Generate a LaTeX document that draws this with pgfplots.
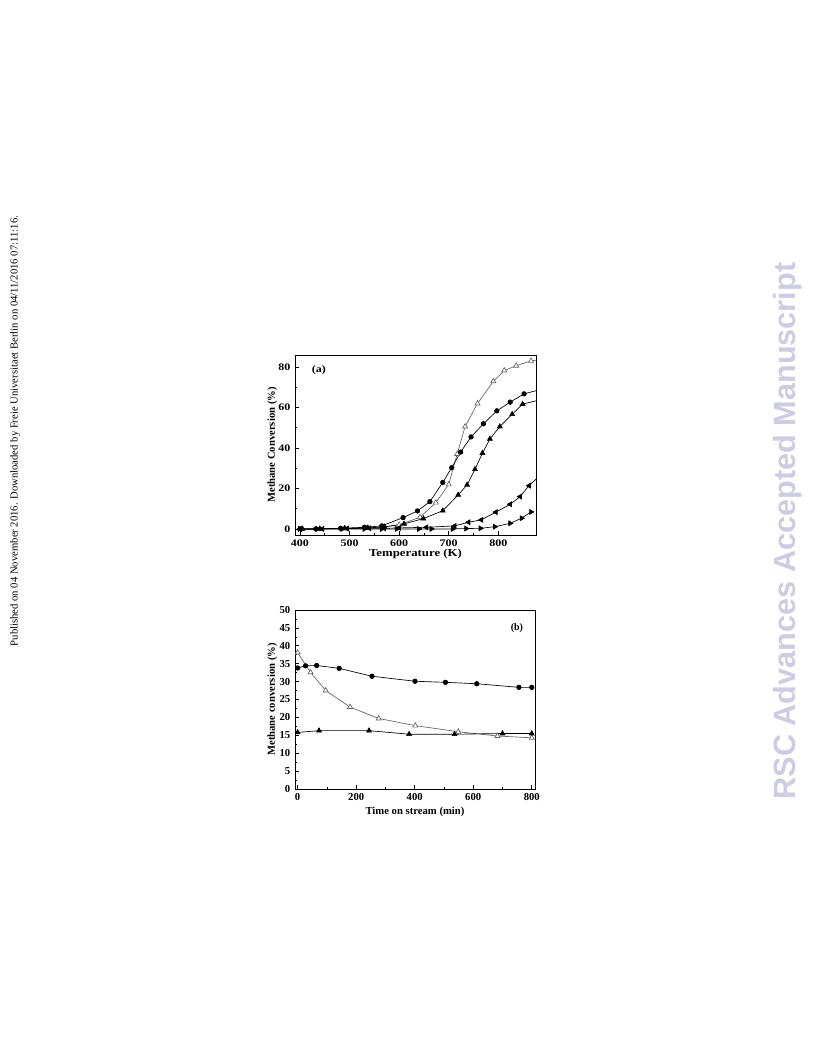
\documentclass[border=0pt]{standalone}
\usepackage{fontspec}
\setmainfont{Liberation Serif}
\newfontfamily\wide[FakeStretch=1.2]{Liberation Serif}
\newfontfamily\arialfont{Liberation Sans}
\usepackage{pgfplots}
\pgfplotsset{compat=1.18}
\definecolor{rscgray}{RGB}{204,204,228}
\definecolor{opengray}{RGB}{100,100,100}

\pgfplotsset{
  common/.style={
    scale only axis,
    axis line style={line width=0.6pt},
    tick align=inside,
    tick pos=left,
    major tick length=3pt,
    minor tick length=1.8pt,
    tick style={line width=0.5pt, black},
    /pgf/number format/assume math mode=true,
    clip=true,
  },
  ln/.style={line width=0.5pt, black},
  fc/.style={ln, mark=*, mark size=1.7pt, mark options={fill=black}},
  ft/.style={ln, mark=triangle*, mark size=2.1pt, mark options={fill=black}},
  ot/.style={line width=0.5pt, opengray, mark=triangle*, mark size=2.2pt, mark options={fill=white, draw=opengray}},
  lt/.style={ln, mark=triangle*, mark size=2.1pt, mark options={fill=black, rotate=90}},
  rt/.style={ln, mark=triangle*, mark size=2.1pt, mark options={fill=black, rotate=-90}},
}

\begin{document}
\begin{tikzpicture}
\path[use as bounding box] (0,0) rectangle (612pt,-792pt);

\node[rotate=90, inner sep=0pt, font=\fontsize{8}{9}\selectfont] at (11.25pt,-323.25pt)
  {Published on 04 November 2016. Downloaded by Freie Universitaet Berlin on 04/11/2016 07:11:16.};
\node[rotate=90, inner sep=0pt, text=rscgray, font=\arialfont\bfseries\fontsize{23}{27}\selectfont] at (591pt,-398.25pt)
  {RSC Advances Accepted Manuscript};

% ---------------- (a)
\begin{axis}[common,
  at={(221.25pt,-266.25pt)}, anchor=north west,
  width=180.75pt, height=135pt,
  xmin=390, xmax=876, ymin=-3, ymax=86,
  xtick={400,500,600,700,800}, minor x tick num=1,
  ytick={0,20,40,60,80}, minor y tick num=1,
  tick label style={font=\wide\bfseries\fontsize{7.5}{8}\selectfont},
  xlabel style={font=\wide\bfseries\fontsize{8}{9}\selectfont},
  ylabel style={font=\bfseries\fontsize{8}{9}\selectfont},
  xlabel shift=-5pt, ylabel shift=-6pt,
  xlabel={Temperature (K)}, ylabel={Methane Conversion (\%)},
]
\addplot[ot] coordinates {(400,0) (440,0) (490,0.2) (535,0.5) (570,1.0) (600,2.0) (642,5.8) (674,13) (700,22) (717,37) (733,50.6) (758,62) (790,73) (812,78.3) (836,80.7) (866,83.1) (880,83.6)};
\addplot[fc] coordinates {(403,0) (432,0) (482,0.3) (530,0.8) (565,1.5) (608,5.6) (637,8.9) (662,13.5) (688,23) (706,30.3) (724,38) (745,45.5) (770,52) (797,58.4) (824,62.7) (852,66.8) (880,68.6)};
\addplot[ft] coordinates {(405,0) (440,0) (490,0.3) (537,0.5) (570,1) (610,2.5) (649,5.1) (688,9) (719,16.8) (737,21.8) (753,29.5) (768,37.5) (783,44.5) (803,50.6) (828,56.7) (849,61.7) (880,63.6)};
\addplot[lt] coordinates {(400,0) (445,0) (495,0.2) (540,0.3) (570,0.3) (600,0.5) (655,0.8) (712,1.5) (740,3.3) (766,4.5) (795,8.3) (824,12.2) (844,16) (862,21.4) (880,25.5)};
\addplot[rt] coordinates {(400,0) (435,0) (485,0) (530,0) (565,0) (595,0) (640,0) (665,0) (708,0) (735,0.2) (764,0.3) (793,1.1) (824,2.8) (847,5.3) (866,8.4)};
\node[anchor=north west, font=\wide\bfseries\fontsize{7.5}{8}\selectfont] at (rel axis cs:0.05,0.97) {(a)};
\end{axis}

% ---------------- (b)
\begin{axis}[common,
  at={(221.25pt,-457.5pt)}, anchor=north west,
  width=180pt, height=134.25pt,
  xmin=-9, xmax=811, ymin=0, ymax=50,
  xtick={0,200,400,600,800}, minor x tick num=1,
  ytick={0,5,...,50}, minor y tick num=1,
  tick label style={font=\bfseries\fontsize{8}{9}\selectfont},
  label style={font=\bfseries\fontsize{8}{9}\selectfont},
  xlabel shift=-2pt, ylabel shift=-5pt,
  xlabel={Time on stream (min)}, ylabel={Methane conversion (\%)},
]
\addplot[fc] coordinates {(0,33.8) (27,34.4) (65,34.5) (142,33.7) (254,31.5) (401,30.1) (505,29.8) (612,29.4) (756,28.4) (800,28.4)};
\addplot[ot] coordinates {(0,38.1) (44,32.6) (96,27.5) (179,22.9) (277,19.7) (402,17.7) (549,16.0) (683,14.8) (800,14.3)};
\addplot[ft] coordinates {(0,15.8) (73,16.3) (244,16.3) (381,15.3) (536,15.3) (700,15.5) (800,15.5)};
\node[anchor=north east, font=\bfseries\fontsize{7.5}{8}\selectfont] at (rel axis cs:0.97,0.95) {(b)};
\end{axis}
\end{tikzpicture}
\end{document}
